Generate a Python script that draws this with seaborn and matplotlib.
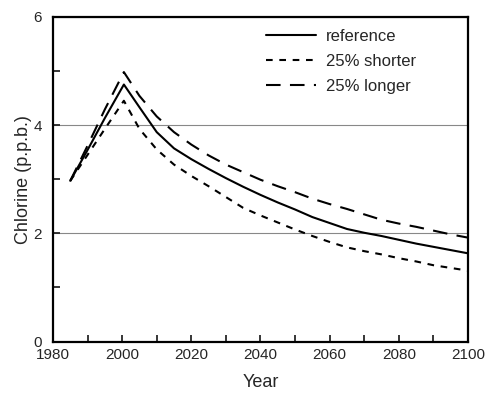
import matplotlib
matplotlib.use("Agg")
import matplotlib.pyplot as plt
import pandas as pd
import seaborn as sns
from matplotlib.ticker import MultipleLocator

years = [1985, 1990, 1995, 2000.5, 2005, 2010, 2015, 2020, 2025, 2030, 2035, 2040,
         2045, 2050, 2055, 2060, 2065, 2070, 2075, 2080, 2085, 2090, 2095, 2100]
reference = [2.97, 3.54, 4.13, 4.75, 4.33, 3.87, 3.57, 3.37, 3.19, 3.02, 2.86, 2.71,
             2.57, 2.44, 2.30, 2.19, 2.08, 2.01, 1.95, 1.88, 1.81, 1.75, 1.69, 1.63]
shorter = [2.97, 3.45, 3.93, 4.45, 3.93, 3.55, 3.27, 3.06, 2.87, 2.67, 2.47, 2.33,
           2.20, 2.07, 1.95, 1.84, 1.74, 1.67, 1.61, 1.54, 1.48, 1.41, 1.36, 1.31]
longer = [2.97, 3.62, 4.29, 4.98, 4.54, 4.16, 3.87, 3.64, 3.44, 3.27, 3.13, 2.99,
          2.87, 2.76, 2.64, 2.54, 2.45, 2.35, 2.25, 2.18, 2.12, 2.05, 1.98, 1.92]
labels = ["reference", "25% shorter", "25% longer"]

df = pd.concat([
    pd.DataFrame({"Year": years, "Chlorine": vals, "case": lab})
    for vals, lab in zip([reference, shorter, longer], labels)
])

sns.set_style("white")
plt.rcParams["font.family"] = ["Liberation Sans", "DejaVu Sans"]

fig, ax = plt.subplots(figsize=(4.86, 3.93), dpi=100)
fig.subplots_adjust(left=0.109, right=0.963, top=0.957, bottom=0.131)

sns.lineplot(data=df, x="Year", y="Chlorine", style="case", style_order=labels,
             dashes={"reference": "", "25% shorter": (3.2, 3.2), "25% longer": (7, 4.5)},
             color="black", linewidth=1.5, ax=ax, sort=False)

ax.set_xlim(1980, 2100)
ax.set_ylim(0, 6)
ax.xaxis.set_major_locator(MultipleLocator(20))
ax.xaxis.set_minor_locator(MultipleLocator(10))
ax.yaxis.set_major_locator(MultipleLocator(2))
ax.yaxis.set_minor_locator(MultipleLocator(1))
ax.tick_params(which="both", direction="in", length=5, width=1.3, labelsize=11,
               bottom=True, left=True, top=False, right=False)
ax.tick_params(axis="y", which="major", pad=8)
ax.tick_params(axis="x", which="major", pad=5)
for s in ax.spines.values():
    s.set_linewidth(1.6)
    s.set_color("black")

ax.grid(axis="y", which="major", color="#888888", linewidth=0.8)
ax.set_axisbelow(True)

ax.set_xlabel("Year", fontsize=13, labelpad=8)
ax.set_ylabel("Chlorine (p.p.b.)", fontsize=13, labelpad=1)

ax.legend(title=None, frameon=False, fontsize=12, handlelength=3.0,
          loc="upper right", bbox_to_anchor=(0.91, 1.01), labelspacing=0.6,
          handletextpad=0.6)

fig.savefig("out.png", dpi=100)
